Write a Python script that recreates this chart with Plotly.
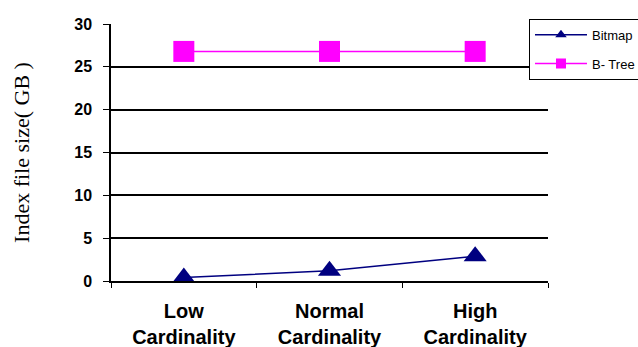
import plotly.graph_objects as go

categories = ["Low<br>Cardinality", "Normal<br>Cardinality", "High<br>Cardinality"]
bitmap = [0.4, 1.2, 2.9]
btree = [26.8, 26.8, 26.8]
y_ticks = [0, 5, 10, 15, 20, 25, 30]

NAVY = "#000080"
MAGENTA = "#FF00FF"
SANS = "Liberation Sans, Arial, sans-serif"
SERIF = "Liberation Serif, Times New Roman, serif"

fig = go.Figure()
fig.add_trace(go.Scatter(x=categories, y=bitmap, mode="lines+markers", name="Bitmap",
                         line=dict(color=NAVY, width=1.5),
                         marker=dict(symbol="triangle-up", size=20, color=NAVY),
                         showlegend=False))
fig.add_trace(go.Scatter(x=categories, y=btree, mode="lines+markers", name="B- Tree",
                         line=dict(color=MAGENTA, width=1.5),
                         marker=dict(symbol="square", size=21, color=MAGENTA),
                         showlegend=False))
# legend entries (smaller symbols as in the reference legend)
fig.add_trace(go.Scatter(x=[None], y=[None], mode="lines+markers", name="Bitmap",
                         line=dict(color=NAVY, width=1.5), legendgroup="a",
                         marker=dict(symbol="triangle-up", size=10, color=NAVY)))
fig.add_trace(go.Scatter(x=[None], y=[None], mode="lines+markers", name="B- Tree",
                         line=dict(color=MAGENTA, width=1.5), legendgroup="b",
                         marker=dict(symbol="square", size=10, color=MAGENTA)))

fig.update_layout(
    width=638, height=347,
    margin=dict(l=111, r=90, t=24, b=66, autoexpand=False),
    paper_bgcolor="white", plot_bgcolor="white",
    font=dict(family=SANS, color="black"),
    showlegend=True,
    legend=dict(x=0.9565, y=1.0206, xanchor="left", yanchor="top",
                bgcolor="white", bordercolor="black", borderwidth=1,
                font=dict(family=SANS, size=13, color="black"),
                traceorder="grouped", tracegroupgap=9, itemwidth=52),
    xaxis=dict(type="category", range=[-0.5, 2.5], showgrid=False,
               showline=True, linecolor="black", linewidth=1.5,
               ticks="outside", tickson="boundaries", ticklen=5, tickcolor="black",
               tickfont=dict(family=SANS, size=20, color="black", weight="bold"),
               ticklabelstandoff=11),
    yaxis=dict(range=[0, 30], tickvals=y_ticks, showgrid=True, gridcolor="black",
               gridwidth=1.5, zeroline=False,
               showline=True, linecolor="black", linewidth=1.5,
               ticks="outside", ticklen=6, tickcolor="black",
               tickfont=dict(family=SANS, size=16, color="black", weight="bold"),
               ticklabelstandoff=8,
               title=dict(text="Index file size( GB )", standoff=39,
                          font=dict(family=SERIF, size=22, color="black"))),
)

fig.write_html("out.html")
